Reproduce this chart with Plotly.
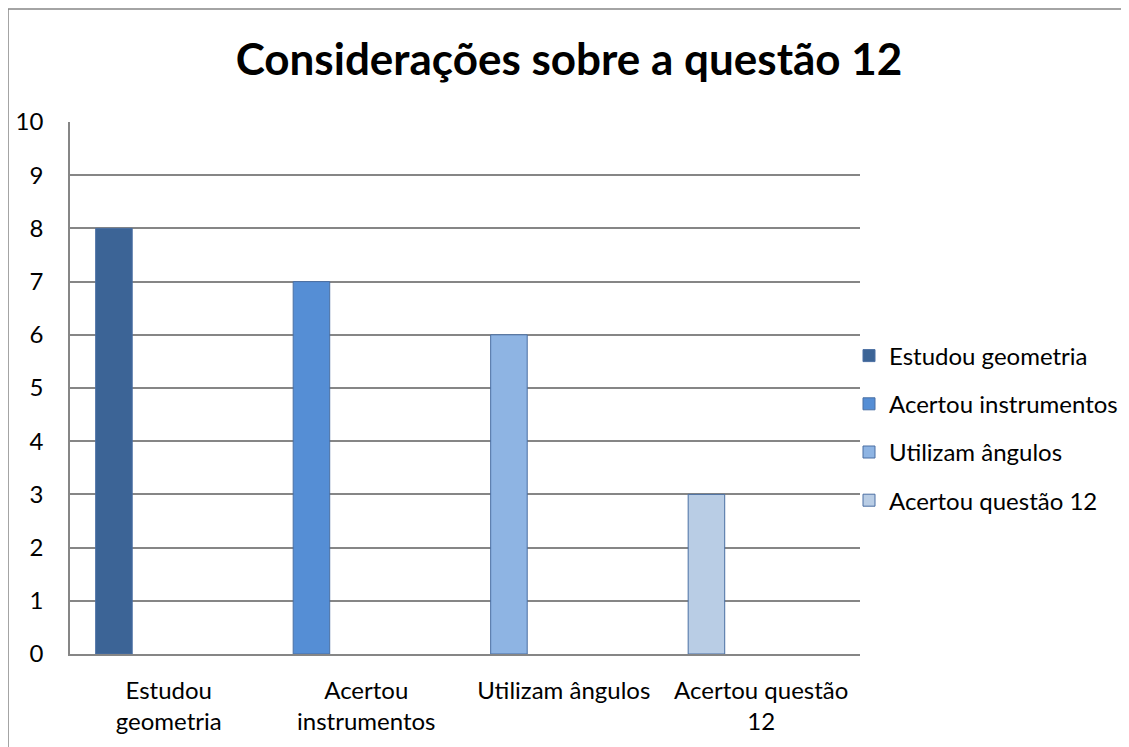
import plotly.graph_objects as go

categories = ["Estudou<br>geometria", "Acertou<br>instrumentos", "Utilizam ângulos", "Acertou questão<br>12"]
series_names = ["Estudou geometria", "Acertou instrumentos", "Utilizam ângulos", "Acertou questão 12"]
values = [8, 7, 6, 3]
colors = ["#3C6496", "#558ED5", "#8EB4E3", "#B9CDE5"]
outline = "#4A6FA3"

W, H = 1129, 747
OFF = 8  # page offset of the figure
L, R, T, B = 70 - OFF, 269 + OFF, 122 - OFF, 93 + OFF
pw, ph = W - L - R, H - T - B

def px_x(x):
    return (x - OFF - L) / pw

def px_y(y):
    return (H - B - (y - OFF)) / ph

fig = go.Figure()
for i, (name, v, c) in enumerate(zip(series_names, values, colors)):
    fig.add_trace(go.Bar(
        x=[categories[i]], y=[v], name=name,
        marker=dict(color=c, line=dict(color=outline, width=1)),
        width=0.185, offset=-0.37, legendgroup=name,
    ))

fig.update_layout(
    width=W, height=H,
    margin=dict(l=L, r=R, t=T, b=B, autoexpand=False),
    paper_bgcolor="white", plot_bgcolor="white",
    barmode="overlay",
    font=dict(family="Lato, Open Sans, sans-serif", size=24, color="#000000"),
    title=dict(text="<b>Considerações sobre a questão 12</b>", x=px_x(569), xref="paper",
               xanchor="center", y=1 - (60 - OFF) / H, yanchor="middle",
               font=dict(size=44, family="Lato, Open Sans, sans-serif")),
    showlegend=True,
    legend=dict(x=px_x(849), xanchor="left", y=px_y(428), yanchor="middle",
                font=dict(size=24), traceorder="grouped", tracegroupgap=14,
                itemwidth=30, bgcolor="rgba(0,0,0,0)"),
    xaxis=dict(type="category", showgrid=False, showline=True, linecolor="#868686",
               linewidth=1.5, ticks="", ticklabelstandoff=14, range=[-0.5, 3.5],
               tickfont=dict(size=24), automargin=False),
    yaxis=dict(range=[0, 10], dtick=1, showgrid=True, gridcolor="#868686", gridwidth=1.5,
               showline=True, linecolor="#868686", linewidth=1.5, ticks="",
               ticklabelstandoff=20, zeroline=False, tickfont=dict(size=24),
               automargin=False),
    shapes=[
        dict(type="line", xref="paper", yref="paper", x0=px_x(8), y0=px_y(9),
             x1=px_x(1160), y1=px_y(9), line=dict(color="#868686", width=1.5)),
        dict(type="line", xref="paper", yref="paper", x0=px_x(8), y0=px_y(9),
             x1=px_x(8), y1=px_y(780), line=dict(color="#868686", width=1.5)),
    ],
)

fig.write_html("out.html")
